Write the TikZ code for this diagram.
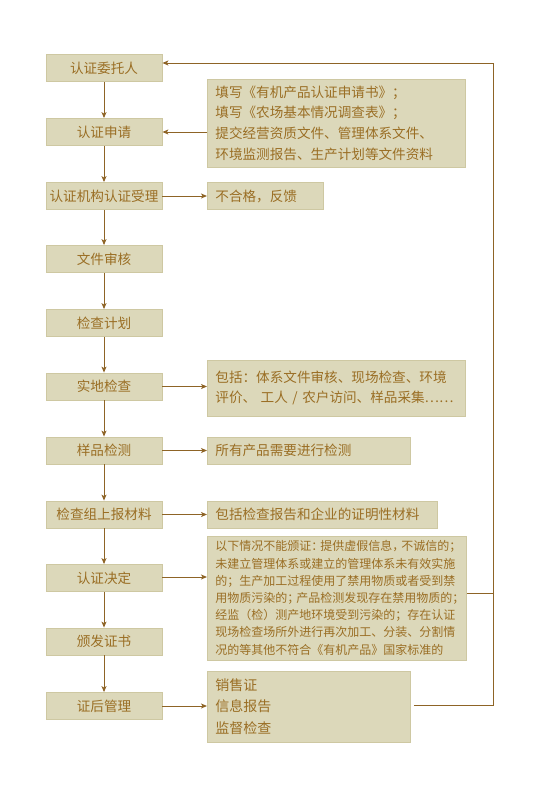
\documentclass[tikz,border=0pt]{standalone}
\usepackage{fontspec}
\setmainfont{Noto Sans CJK SC}
\usetikzlibrary{arrows.meta,calc}
\definecolor{boxfill}{HTML}{DCD8BA}
\definecolor{boxline}{HTML}{CEC8A2}
\definecolor{txt}{HTML}{9A6E24}
\definecolor{arrc}{HTML}{8E6426}
\newcommand\hpq[1]{\makebox[0.75em][l]{#1}}
\newcommand\fwell[1]{{\addfontfeature{RawFeature=+fwid}#1}}
\tikzset{
  lbox/.style={draw=boxline, fill=boxfill, line width=0.8pt, minimum width=116pt,
    minimum height=27pt, inner sep=0pt, text=txt, font=\fontsize{13.6}{16}\selectfont},
  rbox/.style={draw=boxline, fill=boxfill, line width=0.8pt, inner xsep=8pt,
    inner ysep=0pt, text=txt, align=left, anchor=west,
    font=\fontsize{13.6}{20.6}\selectfont},
  arr/.style={draw=arrc, line width=0.9pt, -{Stealth[length=6pt,width=5pt,inset=1.5pt]}},
  fbline/.style={draw=arrc, line width=1pt}
}
\begin{document}
\begin{tikzpicture}[x=1pt,y=-1pt]
\useasboundingbox (0,0) rectangle (551,790);
% left column
\node[lbox] (n1) at (104,68) {认证委托人};
\node[lbox] (n2) at (104,132) {认证申请};
\node[lbox] (n3) at (104,196) {认证机构认证受理};
\node[lbox] (n4) at (104,259) {文件审核};
\node[lbox] (n5) at (104,323) {检查计划};
\node[lbox] (n6) at (104,386.5) {实地检查};
\node[lbox] (n7) at (104,450.5) {样品检测};
\node[lbox] (n8) at (104,514.5) {检查组上报材料};
\node[lbox] (n9) at (104,578) {认证决定};
\node[lbox] (n10) at (104,641.5) {颁发证书};
\node[lbox] (n11) at (104,706) {证后管理};
% right column
\node[rbox, text width=242pt, minimum height=88pt] (ra) at (207,123)
  {填写《有机产品认证申请书》；\\填写《农场基本情况调查表》；\\提交经营资质文件、管理体系文件、\\环境监测报告、生产计划等文件资料};
\node[rbox, text width=100pt, minimum height=27pt] (rb) at (207,196) {不合格，反馈};
\node[rbox, text width=242pt, minimum height=56pt] (rc) at (207,388)
  {包括：体系文件审核、现场检查、环境\\评价、 工人 / 农户访问、样品采集\fwell{……}};
\node[rbox, text width=187pt, minimum height=27pt] (rd) at (207,450.5) {所有产品需要进行检测};
\node[rbox, text width=214pt, minimum height=27pt] (re) at (207,514.5) {包括检查报告和企业的证明性材料};
\node[rbox, text width=243pt, minimum height=124pt, font=\fontsize{12}{17.2}\selectfont] (rf) at (207,598)
  {以下情况不能颁证\hpq{：}提供虚假信息\hpq{，}不诚信的；\\
   未建立管理体系或建立的管理体系未有效实施\\
   的；生产加工过程使用了禁用物质或者受到禁\\
   用物质污染的\hpq{；}产品检测发现存在禁用物质的\hpq{；}\\
   经监（检）测产地环境受到污染的；存在认证\\
   现场检查场所外进行再次加工、分装、分割情\\
   况的等其他不符合《有机产品》国家标准的};
\node[rbox, text width=187pt, minimum height=71pt, font=\fontsize{14}{21.5}\selectfont] (rg) at (207,706.5)
  {销售证\\信息报告\\监督检查};
% vertical flow
\draw[arr] (n1.south) -- (n2.north);
\draw[arr] (n2.south) -- (n3.north);
\draw[arr] (n3.south) -- (n4.north);
\draw[arr] (n4.south) -- (n5.north);
\draw[arr] (n5.south) -- (n6.north);
\draw[arr] (n6.south) -- (n7.north);
\draw[arr] (n7.south) -- (n8.north);
\draw[arr] (n8.south) -- (n9.north);
\draw[arr] (n9.south) -- (n10.north);
\draw[arr] (n10.south) -- (n11.north);
% horizontal arrows
\draw[arr] (ra.west |- n2.east) -- (n2.east);
\draw[arr] (n3.east) -- (rb.west);
\draw[arr] (n6.east) -- (rc.west |- n6.east);
\draw[arr] (n7.east) -- (rd.west |- n7.east);
\draw[arr] (n8.east) -- (re.west |- n8.east);
\draw[arr] ([yshift=1pt]n9.east) -- ([yshift=1pt]rf.west |- n9.east);
\draw[arr] (n11.east) -- (rg.west |- n11.east);
% feedback
\coordinate (ctop) at (493,63);
\draw[fbline] ([yshift=5pt]rf.east) -- ([yshift=5pt]rf.east -| ctop);
\draw[arr, line width=1pt] ([xshift=3pt,yshift=1.5pt]rg.east) -| (ctop) -- (ctop -| n1.east);
\end{tikzpicture}
\end{document}
